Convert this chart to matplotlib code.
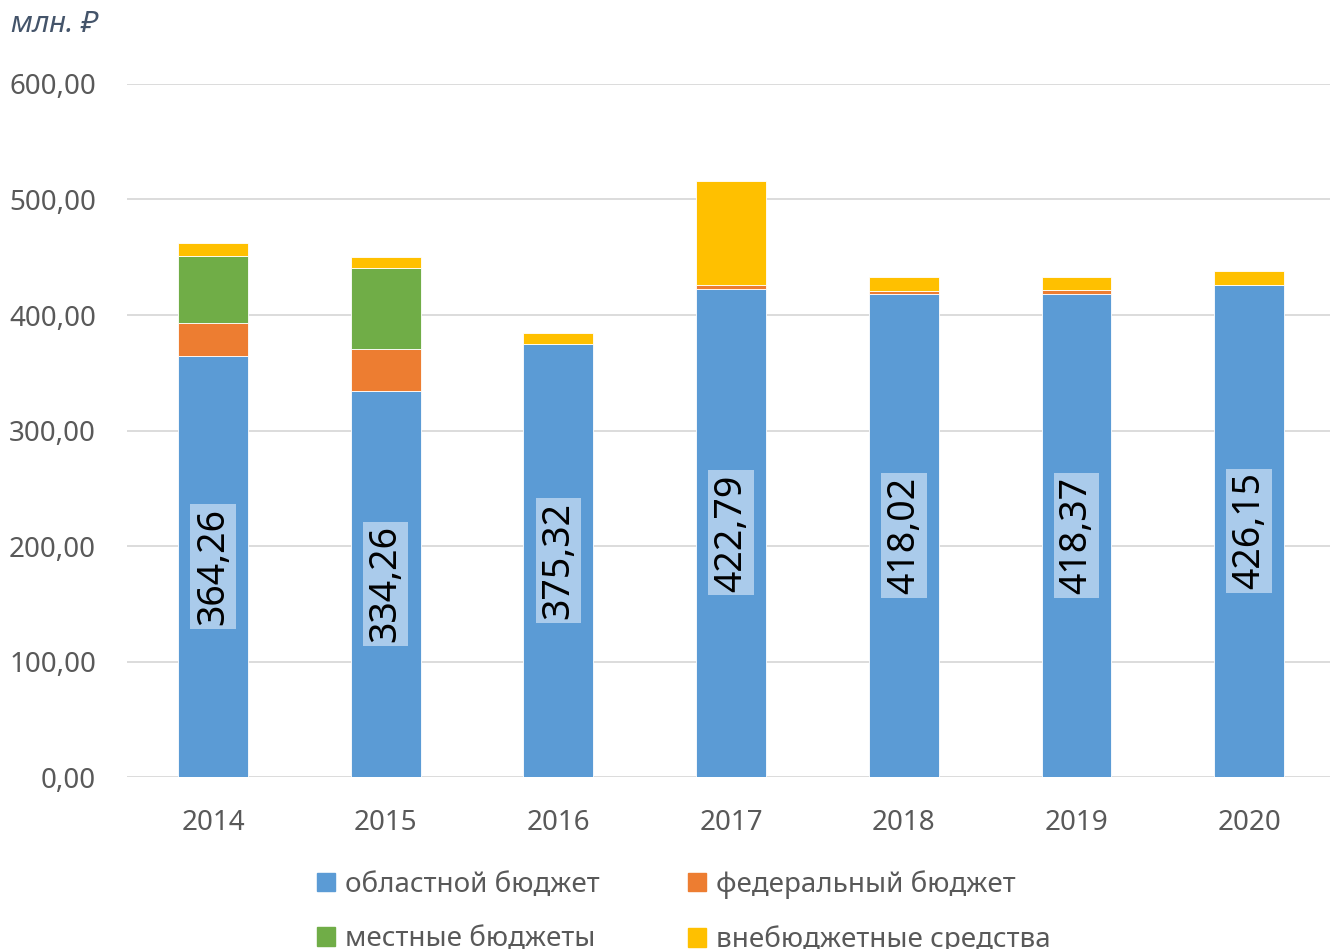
import matplotlib
matplotlib.use('Agg')
import matplotlib.pyplot as plt
from matplotlib.patches import Patch
import numpy as np

plt.rcParams['font.family'] = ['Noto Sans', 'DejaVu Sans']

years = ['2014', '2015', '2016', '2017', '2018', '2019', '2020']
oblast = [364.26, 334.26, 375.32, 422.79, 418.02, 418.37, 426.15]
federal = [28.5, 36.0, 0.0, 2.8, 3.0, 3.0, 0.0]
local = [58.0, 70.7, 0.0, 0.0, 0.0, 0.0, 0.0]
extra = [11.5, 9.2, 9.1, 90.6, 11.8, 11.8, 12.0]

series_names = ['областной бюджет', 'федеральный бюджет',
                'местные бюджеты', 'внебюджетные средства']
colors = ['#5b9bd5', '#ed7d31', '#70ad47', '#ffc000']
yticks = [0, 100, 200, 300, 400, 500, 600]

fig = plt.figure(figsize=(13.3, 9.49), dpi=100)
ax = fig.add_axes([0.0952, 0.1812, 0.909, 0.7303])

x = np.arange(len(years))
width = 0.405
bottom = np.zeros(len(years))
for vals, col in zip([oblast, federal, local, extra], colors):
    ax.bar(x, vals, width, bottom=bottom, color=col,
           edgecolor='white', linewidth=0.6, zorder=3)
    bottom += np.array(vals)

# value labels on the blue part
for xi, v in zip(x, oblast):
    ax.text(xi, v / 2, f'{v:.2f}'.replace('.', ','), rotation=90,
            ha='center', va='center', fontsize=27, color='black', zorder=4,
            bbox=dict(boxstyle='square,pad=0.1', fc='#b4d1ee', ec='none', alpha=0.9))

ax.set_xlim(-0.5, len(years) - 0.5)
ax.set_ylim(0, 600)
ax.set_yticks(yticks)
ax.set_yticklabels([f'{t:.2f}'.replace('.', ',') for t in yticks])
ax.set_xticks(x)
ax.set_xticklabels(years)
ax.tick_params(axis='both', length=0, labelsize=20, colors='#595959')
ax.tick_params(axis='y', pad=22)
ax.tick_params(axis='x', pad=23)
ax.yaxis.grid(True, color='#d9d9d9', linewidth=1.3, zorder=0)
ax.set_axisbelow(True)
for s in ax.spines.values():
    s.set_visible(False)

fig.text(0.008, 0.974, 'млн. ₽', fontsize=21, style='italic',
         color='#44546a', ha='left', va='center')

handles = [Patch(color=c) for c in colors]
order = [0, 2, 1, 3]
fig.legend([handles[i] for i in order], [series_names[i] for i in order],
           ncol=2, loc='upper center', bbox_to_anchor=(0.514, 0.083),
           frameon=False, fontsize=20, handlelength=0.65, handleheight=0.65,
           handletextpad=0.35, columnspacing=3.2, labelspacing=0.95,
           borderpad=0, borderaxespad=0, labelcolor='#595959')

fig.savefig('out.png', dpi=100)
